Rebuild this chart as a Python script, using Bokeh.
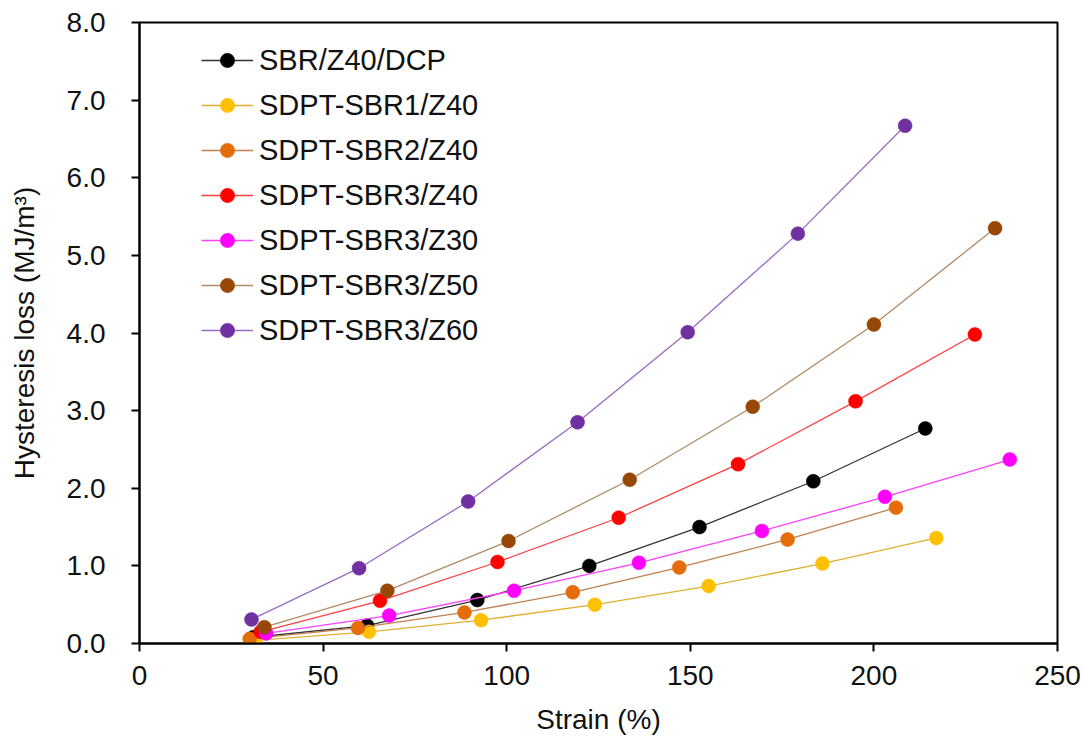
from bokeh.plotting import figure
from bokeh.models import Range1d, FixedTicker, NumeralTickFormatter, Legend, LegendItem
from bokeh.embed import file_html
from bokeh.resources import INLINE

series_names = ["SBR/Z40/DCP", "SDPT-SBR1/Z40", "SDPT-SBR2/Z40", "SDPT-SBR3/Z40",
                "SDPT-SBR3/Z30", "SDPT-SBR3/Z50", "SDPT-SBR3/Z60"]

dcp_x = [31, 62, 92, 122.5, 152.5, 183.5, 214]
dcp_y = [0.08, 0.23, 0.56, 1.0, 1.5, 2.09, 2.77]
sbr1_x = [31.5, 62.5, 93, 124, 155, 186, 217]
sbr1_y = [0.04, 0.15, 0.30, 0.50, 0.74, 1.03, 1.36]
sbr2_x = [30, 59.5, 88.5, 118, 147, 176.5, 206]
sbr2_y = [0.06, 0.20, 0.40, 0.66, 0.98, 1.34, 1.75]
z40_x = [33, 65.5, 97.5, 130.5, 163, 195, 227.5]
z40_y = [0.15, 0.55, 1.05, 1.62, 2.31, 3.12, 3.98]
z30_x = [34.5, 68, 102, 136, 169.5, 203, 237]
z30_y = [0.13, 0.36, 0.68, 1.04, 1.45, 1.89, 2.37]
z50_x = [34, 67.5, 100.5, 133.5, 167, 200, 233]
z50_y = [0.21, 0.68, 1.32, 2.11, 3.05, 4.11, 5.35]
z60_x = [30.5, 59.8, 89.5, 119.3, 149.3, 179.3, 208.5]
z60_y = [0.31, 0.97, 1.83, 2.85, 4.01, 5.28, 6.67]

xs = [dcp_x, sbr1_x, sbr2_x, z40_x, z30_x, z50_x, z60_x]
ys = [dcp_y, sbr1_y, sbr2_y, z40_y, z30_y, z50_y, z60_y]
marker_colors = ["#000000", "#FFC000", "#E46C0A", "#FF0000", "#FF00FF", "#974706", "#7030A0"]
line_colors = ["#333333", "#E0B030", "#C08050", "#FF4040", "#FF40FF", "#B08A64", "#9A6AC4"]

x_ticks = [0, 50, 100, 150, 200, 250]
y_ticks = [0, 1, 2, 3, 4, 5, 6, 7, 8]

FONT = "Liberation Sans"

p = figure(width=1084, height=742, output_backend="svg", toolbar_location=None,
           x_range=Range1d(0, 250), y_range=Range1d(0, 8),
           min_border_left=139, min_border_right=27, min_border_top=22, min_border_bottom=99)
p.xgrid.visible = False
p.ygrid.visible = False
p.outline_line_color = "black"
p.outline_line_width = 2
p.background_fill_color = "white"
p.border_fill_color = "white"

items = []
for name, x, y, mc, lc in zip(series_names, xs, ys, marker_colors, line_colors):
    r1 = p.line(x, y, line_color=lc, line_width=1.3)
    r2 = p.scatter(x, y, size=14, fill_color=mc, line_color=mc, line_width=0.5)
    items.append(LegendItem(label=name, renderers=[r1, r2]))

for ax in (p.xaxis, p.yaxis):
    ax.axis_line_width = 2
    ax.axis_line_color = "black"
    ax.major_tick_line_width = 2
    ax.major_tick_line_color = "black"
    ax.minor_tick_line_color = None
    ax.major_tick_in = 0
    ax.major_tick_out = 8
    ax.major_label_text_font = FONT
    ax.major_label_text_font_size = "28px"
    ax.major_label_text_color = "#111111"
    ax.axis_label_text_font = FONT
    ax.axis_label_text_font_size = "28px"
    ax.axis_label_text_font_style = "normal"
    ax.axis_label_text_color = "#111111"

p.xaxis.ticker = FixedTicker(ticks=x_ticks)
p.yaxis.ticker = FixedTicker(ticks=y_ticks)
p.yaxis.formatter = NumeralTickFormatter(format="0.0")
p.xaxis.axis_label = "Strain (%)"
p.yaxis.axis_label = "Hysteresis loss (MJ/m³)"
p.xaxis.major_label_standoff = 14
p.xaxis.axis_label_standoff = 16
p.yaxis.major_label_standoff = 26
p.yaxis.axis_label_standoff = 24

legend = Legend(items=items, location=(62, 295))
legend.border_line_color = None
legend.background_fill_alpha = 0
legend.padding = 0
legend.margin = 0
legend.glyph_width = 52
legend.glyph_height = 36
legend.label_height = 36
legend.spacing = 9
legend.label_standoff = 6
legend.label_text_font = FONT
legend.label_text_font_size = "29px"
legend.label_text_color = "#111111"
p.add_layout(legend, "center")

open("out.html", "w").write(file_html(p, INLINE))
